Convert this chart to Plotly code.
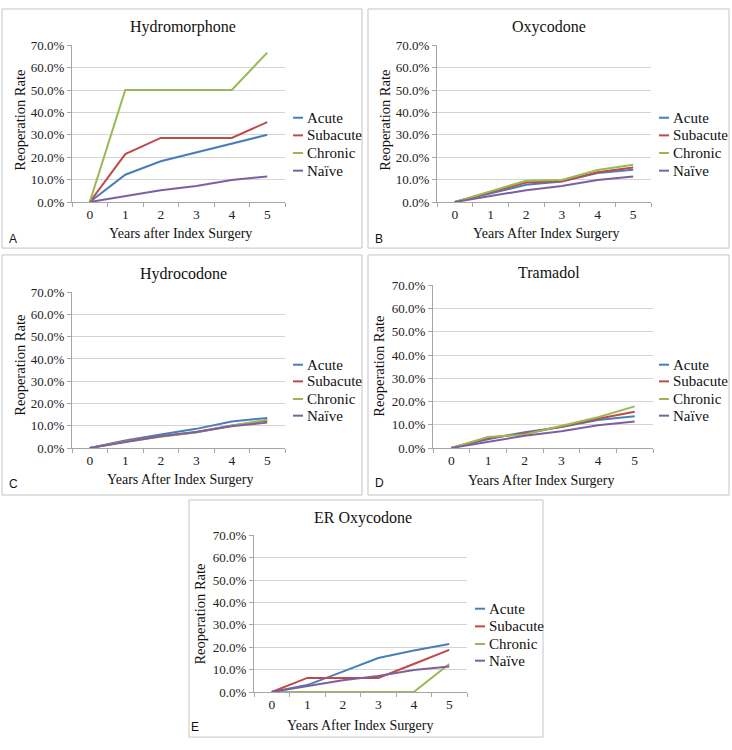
import plotly.graph_objects as go

W, H = 732, 750

years = ["0", "1", "2", "3", "4", "5"]
series_names = ["Acute", "Subacute", "Chronic", "Naïve"]
series_colors = ["#4a7ebb", "#be4b48", "#98b954", "#7d60a0"]
y_ticks = [0, 10, 20, 30, 40, 50, 60, 70]
y_tick_labels = ["0.0%", "10.0%", "20.0%", "30.0%", "40.0%", "50.0%", "60.0%", "70.0%"]

naive = [0, 2.8, 5.3, 7.2, 9.8, 11.4]

hydromorphone_acute = [0, 12.2, 18.2, 22.2, 26.1, 30.0]
hydromorphone_subacute = [0, 21.4, 28.6, 28.6, 28.6, 35.7]
hydromorphone_chronic = [0, 50.0, 50.0, 50.0, 50.0, 66.7]

oxycodone_acute = [0, 4.0, 7.7, 9.2, 12.9, 14.4]
oxycodone_subacute = [0, 4.4, 8.7, 9.3, 13.3, 15.4]
oxycodone_chronic = [0, 4.7, 9.5, 9.8, 14.3, 16.6]

hydrocodone_acute = [0, 3.4, 6.1, 8.6, 11.9, 13.5]
hydrocodone_subacute = [0, 3.0, 5.3, 7.2, 10.1, 12.2]
hydrocodone_chronic = [0, 2.8, 5.1, 7.0, 10.0, 12.7]

tramadol_acute = [0, 3.8, 6.8, 9.0, 12.0, 13.7]
tramadol_subacute = [0, 4.3, 6.2, 9.1, 12.6, 15.6]
tramadol_chronic = [0, 4.7, 5.8, 9.6, 13.2, 17.9]

er_oxycodone_acute = [0, 3.1, 9.1, 15.2, 18.5, 21.4]
er_oxycodone_subacute = [0, 6.3, 6.3, 6.3, 12.5, 18.8]
er_oxycodone_chronic = [0, 0, 0, 0, 0, 12.5]

panel_titles = ["Hydromorphone", "Oxycodone", "Hydrocodone", "Tramadol", "ER Oxycodone"]
x_titles = ["Years after Index Surgery", "Years After Index Surgery", "Years After Index Surgery",
            "Years After Index Surgery", "Years After Index Surgery"]
panel_letters = ["A", "B", "C", "D", "E"]
y_title = "Reoperation Rate"

panel_data = [
    [hydromorphone_acute, hydromorphone_subacute, hydromorphone_chronic, naive],
    [oxycodone_acute, oxycodone_subacute, oxycodone_chronic, naive],
    [hydrocodone_acute, hydrocodone_subacute, hydrocodone_chronic, naive],
    [tramadol_acute, tramadol_subacute, tramadol_chronic, naive],
    [er_oxycodone_acute, er_oxycodone_subacute, er_oxycodone_chronic, naive],
]

# Layout geometry in pixels
panels = [
    dict(border=(2, 2, 362, 246), plot=(72, 39, 285, 199), title=(183, 20), ytitle=(20, 116),
         xtitle=(180, 231), letter=(13, 237), leg=(293, [113, 131, 149, 167])),
    dict(border=(368, 2, 729, 246), plot=(437, 39, 651, 199), title=(549, 20), ytitle=(385, 116),
         xtitle=(546, 231), letter=(379, 237), leg=(659, [113, 131, 149, 167])),
    dict(border=(2, 253, 362, 498), plot=(72, 291, 285, 450), title=(183, 272), ytitle=(20, 366),
         xtitle=(180, 482), letter=(13, 487), leg=(293, [365, 382, 400, 417])),
    dict(border=(368, 253, 729, 498), plot=(433, 284, 653, 450), title=(549, 271), ytitle=(379, 367),
         xtitle=(541, 483), letter=(379, 486), leg=(659, [365, 382, 400, 417])),
    dict(border=(189, 503, 543, 745), plot=(254, 539, 467, 699), title=(363, 521), ytitle=(200, 620),
         xtitle=(360, 733), letter=(195, 735), leg=(475, [614, 632, 650, 667])),
]

def px(x):
    return x / W

def py(y):
    return 1 - y / H

SERIF = "Liberation Serif, Times New Roman, serif"
SANS = "Liberation Sans, Arial, sans-serif"

fig = go.Figure()
shapes = []
annotations = []
layout = dict(width=W, height=H, margin=dict(l=0, r=0, t=0, b=0), autosize=False,
              paper_bgcolor="white", plot_bgcolor="white", showlegend=False)

for i, p in enumerate(panels):
    k = "" if i == 0 else str(i + 1)
    x0, y0, x1, y1 = p["plot"]
    layout["xaxis" + k] = dict(
        domain=[px(x0), px(x1)], anchor="y" + k, type="category",
        categoryorder="array", categoryarray=years, range=[-0.5, 5.5],
        tickson="boundaries", ticks="outside", ticklen=4, tickcolor="#a6a6a6",
        showline=True, linecolor="#a6a6a6", linewidth=1, showgrid=False, zeroline=False,
        tickfont=dict(family=SERIF, size=13.5, color="#222"), fixedrange=True,
    )
    layout["yaxis" + k] = dict(
        domain=[py(y1), py(y0)], anchor="x" + k, range=[0, 70],
        tickmode="array", tickvals=y_ticks, ticktext=y_tick_labels,
        ticks="outside", ticklen=4, tickcolor="#a6a6a6",
        showline=True, linecolor="#a6a6a6", linewidth=1, showgrid=True, gridcolor="#d4d4d4",
        gridwidth=1, zeroline=False, tickfont=dict(family=SERIF, size=13, color="#222"),
        fixedrange=True,
    )
    for name, color, vals in zip(series_names, series_colors, panel_data[i]):
        fig.add_trace(go.Scatter(x=years, y=vals, mode="lines", name=name,
                                 line=dict(color=color, width=2),
                                 xaxis="x" + k, yaxis="y" + k))
    bx0, by0, bx1, by1 = p["border"]
    shapes.append(dict(type="rect", xref="paper", yref="paper",
                       x0=px(bx0), x1=px(bx1), y0=py(by1), y1=py(by0),
                       line=dict(color="#c4c4c4", width=1), fillcolor="rgba(0,0,0,0)", layer="below"))
    annotations.append(dict(text=panel_titles[i], x=px(p["title"][0]), y=py(p["title"][1]),
                            xref="paper", yref="paper", showarrow=False, xanchor="center",
                            yanchor="middle", font=dict(family=SERIF, size=16, color="#111")))
    annotations.append(dict(text=y_title, x=px(p["ytitle"][0]), y=py(p["ytitle"][1]),
                            xref="paper", yref="paper", showarrow=False, textangle=-90,
                            xanchor="center", yanchor="middle",
                            font=dict(family=SERIF, size=14.5, color="#111")))
    annotations.append(dict(text=x_titles[i], x=px(p["xtitle"][0]), y=py(p["xtitle"][1]),
                            xref="paper", yref="paper", showarrow=False, xanchor="center",
                            yanchor="middle", font=dict(family=SERIF, size=14, color="#111")))
    annotations.append(dict(text=panel_letters[i], x=px(p["letter"][0]), y=py(p["letter"][1]),
                            xref="paper", yref="paper", showarrow=False, xanchor="center",
                            yanchor="middle", font=dict(family=SANS, size=12, color="#111")))
    lx, lys = p["leg"]
    for name, color, ly in zip(series_names, series_colors, lys):
        shapes.append(dict(type="line", xref="paper", yref="paper",
                           x0=px(lx), x1=px(lx + 10), y0=py(ly), y1=py(ly),
                           line=dict(color=color, width=2)))
        annotations.append(dict(text=name, x=px(lx + 12), y=py(ly), xref="paper", yref="paper",
                                showarrow=False, xanchor="left", yanchor="middle",
                                font=dict(family=SERIF, size=15, color="#111")))

layout["shapes"] = shapes
layout["annotations"] = annotations
fig.update_layout(**layout)
fig.write_html("out.html", config={"displayModeBar": False},
               post_script="document.body.style.margin='0';document.body.style.overflow='hidden';")
